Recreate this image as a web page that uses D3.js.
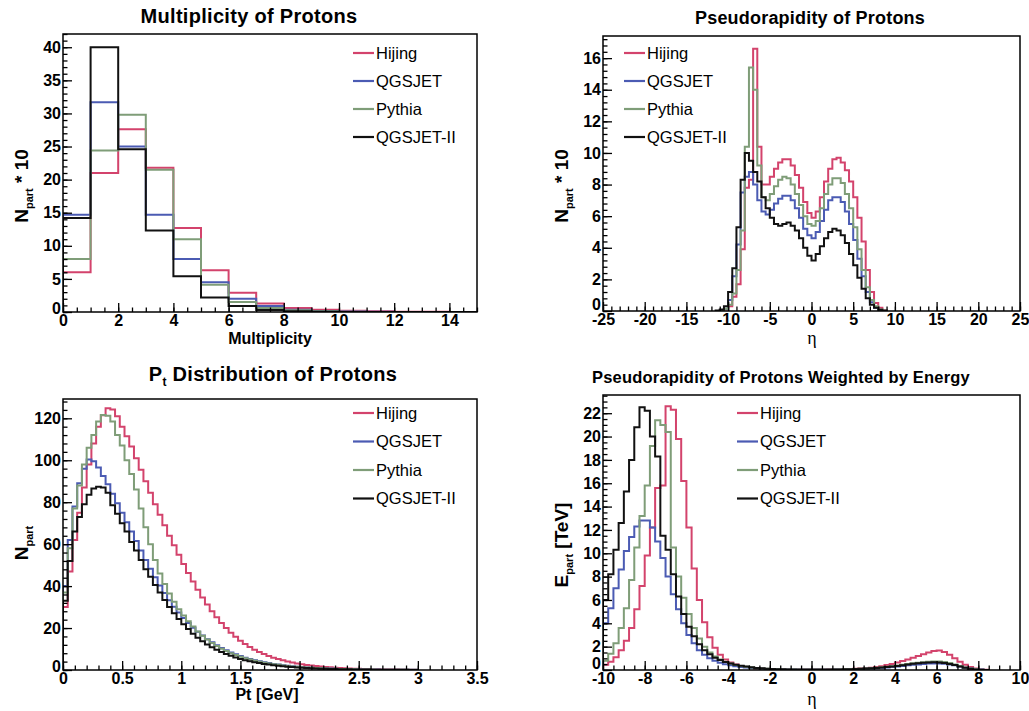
<!DOCTYPE html>
<html><head><meta charset="utf-8">
<script src="https://cdn.jsdelivr.net/npm/d3@7"></script>
<style>
body{margin:0;background:#fff}
svg{display:block}
text{font-family:"Liberation Sans",Arial,Helvetica,sans-serif}
</style>
</head><body>
<svg id="c" width="1029" height="711"></svg>
<script>
// ---------- shared ----------
const seriesNames = ["Hijing", "QGSJET", "Pythia", "QGSJET-II"];
const seriesColors = ["#d3436c", "#4b5bb3", "#7f9d78", "#111111"];

// ---------- Panel 1: multiplicity (bin width 1, from 0) ----------
const multBinStart = 0, multBinWidth = 1;
const multHijing  = [6.0, 21.0, 27.6, 21.8, 12.7, 6.3, 2.9, 1.3, 0.6, 0.35, 0.2, 0.1, 0.05, 0.02, 0];
const multQgsjet  = [14.7, 31.7, 25.0, 14.7, 8.0, 4.5, 2.0, 0.9, 0.35, 0.15, 0.06, 0.02, 0, 0, 0];
const multPythia  = [8.0, 24.4, 29.8, 21.5, 11.0, 4.1, 1.5, 0.6, 0.25, 0.1, 0.04, 0.01, 0, 0, 0];
const multQgsjet2 = [14.2, 40.0, 24.6, 12.3, 5.4, 2.2, 0.9, 0.3, 0.1, 0.04, 0.01, 0, 0, 0, 0];
const multXTicks = [0, 2, 4, 6, 8, 10, 12, 14];
const multYTicks = [0, 5, 10, 15, 20, 25, 30, 35, 40];

// ---------- Panel 2: pseudorapidity (bin width 0.5, from -11.5) ----------
const etaBinStart = -11.5, etaBinWidth = 0.5;
const etaHijing  = [0, 0.02, 0.1, 0.3, 0.9, 1.7, 3.9, 7.8, 8.3, 16.6, 10.4, 8.0, 8.0, 8.5, 9.0, 9.4, 9.6, 9.6, 9.2, 8.6, 7.8, 6.9, 6.2, 5.9, 6.3, 7.2, 8.2, 9.0, 9.6, 9.7, 9.4, 8.9, 8.2, 7.2, 5.9, 4.4, 2.6, 1.2, 0.5, 0.2, 0.05];
const etaQgsjet  = [0, 0.03, 0.15, 0.7, 2.2, 4.2, 7.5, 8.5, 8.8, 8.0, 7.0, 6.3, 6.1, 6.4, 6.8, 7.1, 7.3, 7.3, 7.0, 6.5, 5.9, 5.2, 4.8, 4.6, 5.0, 5.7, 6.4, 7.0, 7.2, 7.2, 6.9, 6.3, 5.5, 4.5, 3.3, 2.2, 1.2, 0.55, 0.2, 0.06, 0.02];
const etaPythia  = [0, 0.02, 0.15, 0.4, 1.1, 2.6, 5.1, 10.4, 15.4, 14.0, 9.2, 7.2, 7.0, 7.4, 7.9, 8.3, 8.5, 8.4, 8.0, 7.4, 6.7, 6.0, 5.5, 5.4, 5.7, 6.5, 7.4, 8.0, 8.4, 8.4, 8.1, 7.4, 6.5, 5.3, 3.9, 2.6, 1.5, 0.7, 0.3, 0.1, 0.03];
const etaQgsjet2 = [0.03, 0.1, 0.3, 1.2, 2.7, 5.3, 8.3, 10.0, 9.5, 8.8, 8.2, 7.2, 6.5, 5.9, 5.5, 5.4, 5.5, 5.6, 5.4, 5.1, 4.6, 4.0, 3.5, 3.2, 3.6, 4.1, 4.6, 5.0, 5.2, 5.1, 4.8, 4.3, 3.6, 2.9, 2.1, 1.4, 0.8, 0.4, 0.2, 0.08, 0.02];
const etaXTicks = [-25, -20, -15, -10, -5, 0, 5, 10, 15, 20, 25];
const etaYTicks = [0, 2, 4, 6, 8, 10, 12, 14, 16];

// ---------- Panel 3: Pt (bin width 0.04, from 0) ----------
const ptBinStart = 0, ptBinWidth = 0.04;
const ptHijing  = [30, 47, 62, 75, 87, 98, 108, 116, 121.5, 124.8, 124.2, 121, 116, 111.5, 106.5, 101, 95.5, 90, 84.5, 79, 74, 69, 64, 59.5, 55, 50.5, 46.3, 42.2, 38.3, 34.6, 31.2, 28, 25.1, 22.4, 20, 17.8, 15.8, 14, 12.4, 11, 9.7, 8.6, 7.6, 6.7, 5.9, 5.2, 4.6, 4.05, 3.55, 3.1, 2.75, 2.42, 2.13, 1.87, 1.64, 1.44, 1.26, 1.1, 0.97, 0.85, 0.74, 0.65, 0.57, 0.5, 0.44, 0.38, 0.33, 0.29, 0.25, 0.22, 0.19, 0.17, 0.15, 0.13, 0.11];
const ptQgsjet  = [40, 62, 78, 89, 96, 100.3, 99.5, 96.5, 92.5, 88.5, 84, 79.5, 75, 70.5, 66, 61.5, 57, 52.5, 48.3, 44.2, 40.3, 36.7, 33.3, 30.2, 27.4, 24.8, 22.4, 20.2, 18.2, 16.4, 14.7, 13.2, 11.8, 10.5, 9.4, 8.4, 7.5, 6.7, 5.9, 5.3, 4.7, 4.2, 3.7, 3.3, 2.9, 2.6, 2.3, 2.0, 1.8, 1.6, 1.4, 1.24, 1.1, 0.97, 0.86, 0.76, 0.67, 0.59, 0.52, 0.46, 0.4, 0.35, 0.31, 0.27, 0.24, 0.21, 0.18, 0.16, 0.14, 0.12, 0.1, 0.09, 0.08, 0.07, 0.06];
const ptPythia  = [37, 58, 77, 88, 98, 106, 112, 118.5, 121.6, 121.2, 118.5, 112, 107, 100, 93.5, 86, 77, 68, 60, 52.5, 46, 41, 36.5, 32.5, 29, 26, 23.2, 20.7, 18.4, 16.3, 14.5, 12.9, 11.4, 10.1, 9.0, 8.0, 7.1, 6.3, 5.6, 5.0, 4.4, 3.9, 3.5, 3.1, 2.75, 2.45, 2.15, 1.9, 1.7, 1.5, 1.33, 1.18, 1.04, 0.92, 0.81, 0.72, 0.63, 0.56, 0.49, 0.43, 0.38, 0.33, 0.29, 0.26, 0.23, 0.2, 0.17, 0.15, 0.13, 0.11, 0.1, 0.09, 0.08, 0.07, 0.06];
const ptQgsjet2 = [33, 52, 66, 73, 79, 83.5, 86.5, 87.4, 87.0, 84.5, 78.5, 74.5, 70, 66, 61, 57, 52.5, 48, 44.5, 40.5, 37, 33.4, 30, 27, 24.3, 21.8, 19.5, 17.3, 15.4, 13.7, 12.2, 10.9, 9.7, 8.6, 7.6, 6.8, 6.0, 5.3, 4.7, 4.2, 3.7, 3.3, 2.9, 2.6, 2.3, 2.0, 1.75, 1.55, 1.38, 1.22, 1.08, 0.95, 0.84, 0.74, 0.65, 0.57, 0.5, 0.44, 0.39, 0.34, 0.3, 0.26, 0.23, 0.2, 0.18, 0.16, 0.14, 0.12, 0.11, 0.09, 0.08, 0.07, 0.06, 0.05, 0.05];
const ptXTicks = [0, 0.5, 1, 1.5, 2, 2.5, 3, 3.5];
const ptYTicks = [0, 20, 40, 60, 80, 100, 120];

// ---------- Panel 4: energy weighted eta (bin width 0.25, from -10) ----------
const eEtaBinStart = -10, eEtaBinWidth = 0.25;
const eEtaHijing  = [0.45, 0.7, 1.1, 1.7, 2.5, 3.6, 5.2, 7.2, 9.8, 12.2, 15.6, 15.8, 22.6, 22.3, 19.8, 16.2, 12.2, 8.7, 6.0, 4.1, 2.8, 1.9, 1.3, 0.9, 0.65, 0.47, 0.34, 0.25, 0.18, 0.13, 0.1, 0.07, 0.06, 0.05, 0.04, 0.04, 0.03, 0.03, 0.03, 0.03, 0.03, 0.03, 0.03, 0.04, 0.04, 0.05, 0.06, 0.08, 0.1, 0.13, 0.16, 0.2, 0.25, 0.33, 0.42, 0.52, 0.64, 0.77, 0.9, 1.05, 1.2, 1.35, 1.5, 1.62, 1.66, 1.55, 1.3, 1.0, 0.7, 0.45, 0.25, 0.12, 0.05, 0.02];
const eEtaQgsjet  = [4.0, 5.3, 7.0, 8.6, 10.2, 11.4, 12.3, 12.8, 12.8, 12.2, 11.0, 9.6, 8.0, 6.5, 5.2, 4.0, 3.0, 2.3, 1.7, 1.3, 1.0, 0.8, 0.62, 0.5, 0.4, 0.32, 0.26, 0.21, 0.17, 0.14, 0.11, 0.09, 0.07, 0.06, 0.05, 0.04, 0.04, 0.03, 0.03, 0.03, 0.03, 0.03, 0.03, 0.03, 0.04, 0.04, 0.05, 0.06, 0.07, 0.09, 0.11, 0.13, 0.15, 0.18, 0.22, 0.26, 0.3, 0.35, 0.4, 0.44, 0.48, 0.52, 0.55, 0.56, 0.56, 0.53, 0.48, 0.4, 0.3, 0.2, 0.13, 0.07, 0.04, 0.01];
const eEtaPythia  = [0.8, 1.4, 2.3, 3.6, 5.3, 7.7, 10.5, 13.2, 15.8, 19.2, 21.4, 21.0, 20.4, 10.5, 8.0, 6.2, 4.8, 3.6, 2.7, 2.0, 1.5, 1.15, 0.9, 0.7, 0.55, 0.43, 0.34, 0.27, 0.21, 0.16, 0.13, 0.1, 0.08, 0.06, 0.05, 0.04, 0.04, 0.03, 0.03, 0.03, 0.03, 0.03, 0.03, 0.03, 0.04, 0.05, 0.06, 0.07, 0.09, 0.11, 0.13, 0.16, 0.19, 0.23, 0.28, 0.33, 0.39, 0.45, 0.51, 0.57, 0.62, 0.67, 0.7, 0.72, 0.72, 0.68, 0.6, 0.48, 0.35, 0.22, 0.12, 0.06, 0.02, 0.01];
const eEtaQgsjet2 = [6.0, 8.2, 10.3, 12.6, 15.3, 18.0, 20.8, 22.5, 22.2, 20.0, 18.3, 11.5, 10.3, 8.2, 6.3, 4.8, 3.7, 2.9, 2.2, 1.7, 1.35, 1.05, 0.85, 0.68, 0.55, 0.45, 0.36, 0.29, 0.23, 0.18, 0.14, 0.11, 0.09, 0.07, 0.06, 0.05, 0.04, 0.04, 0.04, 0.04, 0.04, 0.04, 0.04, 0.04, 0.05, 0.05, 0.06, 0.07, 0.09, 0.11, 0.13, 0.15, 0.18, 0.21, 0.25, 0.3, 0.35, 0.41, 0.47, 0.53, 0.58, 0.62, 0.65, 0.66, 0.65, 0.6, 0.52, 0.42, 0.3, 0.19, 0.11, 0.05, 0.02, 0.01];
const eEtaXTicks = [-10, -8, -6, -4, -2, 0, 2, 4, 6, 8, 10];
const eEtaYTicks = [0, 2, 4, 6, 8, 10, 12, 14, 16, 18, 20, 22];

// ---------- drawing ----------
const svg = d3.select("#c");

function range(a, b, s) { const out = []; for (let v = a; v <= b + 1e-9; v += s) out.push(+v.toFixed(6)); return out; }
const plainFmt = d => String(d);

function drawPanel(p, idx) {
  const x = d3.scaleLinear().domain(p.xDomain).range([p.left, p.right]);
  const y = d3.scaleLinear().domain(p.yDomain).range([p.bottom, p.top]);
  const g = svg.append("g");
  const clipId = "clip" + idx;
  g.append("clipPath").attr("id", clipId).append("rect")
    .attr("x", p.left).attr("y", p.top).attr("width", p.right - p.left).attr("height", p.bottom - p.top);

  // histograms
  const line = d3.line().x(d => x(d[0])).y(d => y(d[1]));
  const hg = g.append("g").attr("clip-path", `url(#${clipId})`);
  p.series.forEach((vals, si) => {
    const pts = [[p.binStart, 0]];
    vals.forEach((v, i) => {
      pts.push([p.binStart + i * p.binWidth, v]);
      pts.push([p.binStart + (i + 1) * p.binWidth, v]);
    });
    pts.push([p.binStart + vals.length * p.binWidth, 0]);
    hg.append("path").attr("d", line(pts)).attr("fill", "none")
      .attr("stroke", seriesColors[si]).attr("stroke-width", 2).attr("stroke-linejoin", "miter");
  });

  // axes (ticks inside)
  const xa = g.append("g").attr("transform", `translate(0,${p.bottom})`)
    .call(d3.axisBottom(x).tickValues(p.xTicks).tickSize(-9).tickPadding(3).tickFormat(plainFmt));
  const xm = g.append("g").attr("transform", `translate(0,${p.bottom})`)
    .call(d3.axisBottom(x).tickValues(range(p.xDomain[0], p.xDomain[1], p.xMinor)).tickSize(-4.5).tickFormat(""));
  const ya = g.append("g").attr("transform", `translate(${p.left},0)`)
    .call(d3.axisLeft(y).tickValues(p.yTicks).tickSize(-9).tickPadding(2).tickFormat(plainFmt));
  const ym = g.append("g").attr("transform", `translate(${p.left},0)`)
    .call(d3.axisLeft(y).tickValues(range(0, p.yDomain[1], p.yMinor)).tickSize(-4.5).tickFormat(""));
  [xa, xm, ya, ym].forEach(a => {
    a.select(".domain").remove();
    a.selectAll("line").attr("stroke", "#000").attr("stroke-width", 1.3);
    a.selectAll("text").attr("font-size", 16).attr("font-weight", "bold").attr("fill", "#000")
      .style("font-family", '"Liberation Sans",Arial,sans-serif');
  });
  // lift the y "0" label a touch so it does not collide with the first x label
  ya.selectAll(".tick").filter(d => d === 0).select("text")
    .attr("dy", p.xDomain[0] < 0 ? "-0.12em" : "0.1em");

  // frame
  g.append("rect").attr("x", p.left).attr("y", p.top).attr("width", p.right - p.left).attr("height", p.bottom - p.top)
    .attr("fill", "none").attr("stroke", "#000").attr("stroke-width", 1.5);

  // title
  const t = g.append("text").attr("x", p.titleX).attr("y", p.titleY).attr("text-anchor", "middle")
    .attr("font-weight", "bold").attr("font-size", p.titleSize).attr("letter-spacing", p.titleSpacing);
  p.title.forEach(part => {
    const ts = t.append("tspan").text(part.t);
    if (part.sub) ts.attr("font-size", p.titleSize * 0.6).attr("dy", 5);
    if (part.after) ts.attr("dy", -5);
  });

  // x title
  const xt = g.append("text").attr("x", p.xTitleX).attr("y", p.xTitleY).attr("text-anchor", "middle").text(p.xTitle);
  if (p.xTitleGreek) xt.attr("font-size", 18).style("font-family", '"Liberation Serif","DejaVu Serif",serif');
  else xt.attr("font-size", 16).attr("font-weight", "bold");

  // y title (rotated)
  const yt = g.append("text").attr("transform", `translate(${p.yTitleX},${p.yTitleY}) rotate(-90)`)
    .attr("text-anchor", "middle").attr("font-weight", "bold").attr("font-size", 19);
  yt.append("tspan").text(p.yTitle[0]);
  yt.append("tspan").text(p.yTitle[1]).attr("font-size", 11).attr("dy", 5);
  yt.append("tspan").text(p.yTitle[2]).attr("dy", -5);

  // legend
  seriesNames.forEach((n, i) => {
    const ly = p.legendY + i * p.legendStep;
    g.append("line").attr("x1", p.legendX).attr("x2", p.legendX + 21).attr("y1", ly).attr("y2", ly)
      .attr("stroke", seriesColors[i]).attr("stroke-width", 2.2);
    g.append("text").attr("x", p.legendX + 23).attr("y", ly).attr("dy", "0.36em")
      .attr("font-size", 16.5).text(n);
  });
}

const panels = [
  { left: 63, right: 477, top: 34, bottom: 312, xDomain: [0, 15], yDomain: [0, 42],
    binStart: multBinStart, binWidth: multBinWidth,
    series: [multHijing, multQgsjet, multPythia, multQgsjet2],
    xTicks: multXTicks, xMinor: 0.5, yTicks: multYTicks, yMinor: 1,
    title: [{ t: "Multiplicity of Protons" }], titleX: 249, titleY: 23, titleSize: 20, titleSpacing: 0.3,
    xTitle: "Multiplicity", xTitleX: 270, xTitleY: 344,
    yTitle: ["N", "part", " * 10"], yTitleX: 28, yTitleY: 186,
    legendX: 353, legendY: 53, legendStep: 28 },
  { left: 603, right: 1020, top: 36, bottom: 311, xDomain: [-25, 25], yDomain: [0, 17.4],
    binStart: etaBinStart, binWidth: etaBinWidth,
    series: [etaHijing, etaQgsjet, etaPythia, etaQgsjet2],
    xTicks: etaXTicks, xMinor: 1, yTicks: etaYTicks, yMinor: 0.4,
    title: [{ t: "Pseudorapidity of Protons" }], titleX: 810, titleY: 24, titleSize: 18, titleSpacing: 0.2,
    xTitle: "η", xTitleGreek: true, xTitleX: 812, xTitleY: 344,
    yTitle: ["N", "part", " * 10"], yTitleX: 568, yTitleY: 186,
    legendX: 624, legendY: 53, legendStep: 28 },
  { left: 63, right: 477, top: 399, bottom: 670, xDomain: [0, 3.5], yDomain: [0, 129.2],
    binStart: ptBinStart, binWidth: ptBinWidth,
    series: [ptHijing, ptQgsjet, ptPythia, ptQgsjet2],
    xTicks: ptXTicks, xMinor: 0.1, yTicks: ptYTicks, yMinor: 4,
    title: [{ t: "P" }, { t: "t", sub: true }, { t: " Distribution of Protons", after: true }], titleX: 273, titleY: 381, titleSize: 20, titleSpacing: 0.3,
    xTitle: "Pt [GeV]", xTitleX: 267, xTitleY: 700,
    yTitle: ["N", "part", ""], yTitleX: 28, yTitleY: 543,
    legendX: 353, legendY: 413, legendStep: 28.5 },
  { left: 603, right: 1020, top: 395, bottom: 670, xDomain: [-10, 10], yDomain: [0, 23.56],
    binStart: eEtaBinStart, binWidth: eEtaBinWidth,
    series: [eEtaHijing, eEtaQgsjet, eEtaPythia, eEtaQgsjet2],
    xTicks: eEtaXTicks, xMinor: 0.5, yTicks: eEtaYTicks, yMinor: 0.5,
    title: [{ t: "Pseudorapidity of Protons Weighted by Energy" }], titleX: 781, titleY: 383, titleSize: 16.5, titleSpacing: 0.2,
    xTitle: "η", xTitleGreek: true, xTitleX: 812, xTitleY: 705,
    yTitle: ["E", "part", " [TeV]"], yTitleX: 568, yTitleY: 545,
    legendX: 737, legendY: 413, legendStep: 28.5 }
];
panels.forEach((p, i) => drawPanel(p, i));
</script>
</body></html>
